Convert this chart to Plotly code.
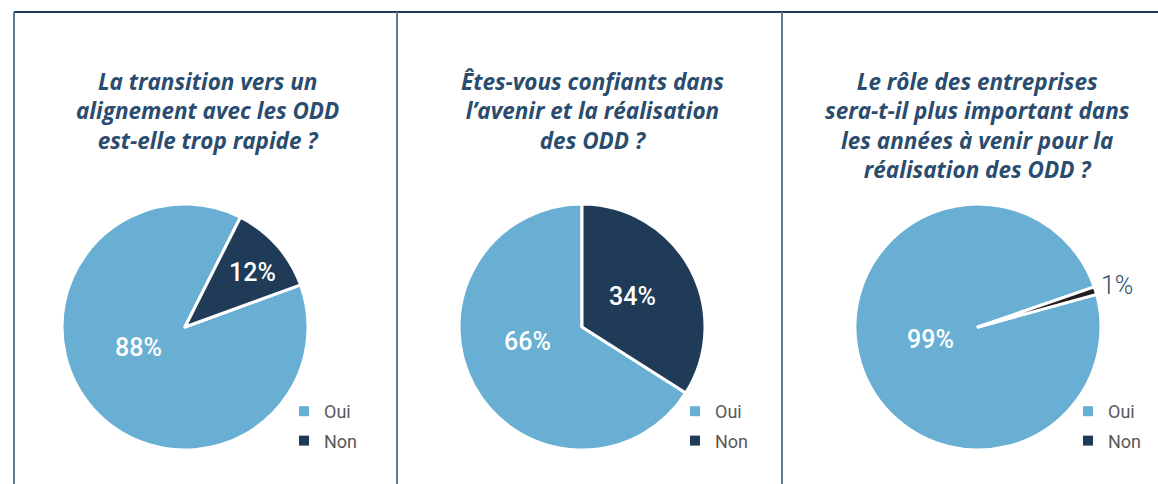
import plotly.graph_objects as go

categories = ["Oui", "Non"]
titles = [
    "La transition vers un<br>alignement avec les ODD<br>est-elle trop rapide ?",
    "Êtes-vous confiants dans<br>l’avenir et la réalisation<br>des ODD ?",
    "Le rôle des entreprises<br>sera-t-il plus important dans<br>les années à venir pour la<br>réalisation des ODD ?",
]
q1_values = [88, 12]
q2_values = [66, 34]
q3_values = [99, 1]

W, H = 1158, 484
LIGHT = "#69AFD4"
NAVY = "#1F3B57"
BLACK = "#231F20"
TITLE_C = "#2A4C6E"


def px(x):
    return x / W


def py(y):
    return 1 - y / H


fig = go.Figure()

R = 123
CY = 327
pies = [
    dict(values=q1_values, cx=185, rotation=70, colors=[LIGHT, NAVY], legend="legend", lx=284,
         label_off=[(-47, 20), (67, -55)], outside=[False, False]),
    dict(values=q2_values, cx=582, rotation=122.4, colors=[LIGHT, NAVY], legend="legend2", lx=675,
         label_off=[(-55, 14), (50, -31)], outside=[False, False]),
    dict(values=q3_values, cx=978, rotation=74.6, colors=[LIGHT, BLACK], legend="legend3", lx=1068,
         label_off=[(-48, 12), (139, -42)], outside=[False, True]),
]
legend_colors = [LIGHT, NAVY]

for i, p in enumerate(pies):
    fig.add_trace(go.Pie(
        labels=categories,
        values=p["values"],
        sort=False,
        direction="clockwise",
        rotation=p["rotation"],
        marker=dict(colors=p["colors"], line=dict(color="white", width=3)),
        domain=dict(x=[px(p["cx"] - R), px(p["cx"] + R)], y=[py(CY + R), py(CY - R)]),
        textinfo="none",
        hoverinfo="label+percent",
        showlegend=False,
    ))
    # percentage labels
    for v, (dx, dy), out in zip(p["values"], p["label_off"], p["outside"]):
        fig.add_annotation(
            text=f"{v}%",
            xref="paper", yref="paper",
            x=px(p["cx"] + dx), y=py(CY + dy),
            xanchor="center", yanchor="middle", showarrow=False,
            font=dict(family="Roboto", size=25,
                      color=TITLE_C if out else "white",
                      weight=300 if out else 500),
        )
    # legend entries
    for j, (cat, col) in enumerate(zip(categories, legend_colors)):
        fig.add_trace(go.Scatter(
            x=[None], y=[None], mode="markers",
            marker=dict(symbol="square", size=10, color=col),
            name=cat, legend=p["legend"], legendgroup=f"{p['legend']}_{j}",
            showlegend=True, hoverinfo="skip",
        ))

legend_common = dict(
    font=dict(family="Roboto", size=18, color="#595959"),
    bgcolor="rgba(0,0,0,0)",
    tracegroupgap=3,
    traceorder="grouped",
    itemwidth=30,
    xanchor="left",
    yanchor="top",
)
fig.update_layout(
    width=W, height=H,
    margin=dict(l=0, r=0, t=0, b=0),
    paper_bgcolor="white",
    plot_bgcolor="white",
    xaxis=dict(visible=False),
    yaxis=dict(visible=False),
    legend=dict(x=px(pies[0]["lx"]), y=py(393), **legend_common),
    legend2=dict(x=px(pies[1]["lx"]), y=py(393), **legend_common),
    legend3=dict(x=px(pies[2]["lx"]), y=py(393), **legend_common),
)

# panel borders
line_dark = dict(color="#1F3A55", width=2)
line_side = dict(color="#5B7A96", width=2)
fig.add_shape(type="line", xref="paper", yref="paper", x0=px(14), x1=1, y0=py(12), y1=py(12), line=line_dark)
for xv in [14, 397, 782]:
    fig.add_shape(type="line", xref="paper", yref="paper", x0=px(xv), x1=px(xv), y0=py(12), y1=0, line=line_side)

# titles
title_pos = [(207, 63.5), (592, 63.5), (977, 63.5)]
for t, (tx, ty) in zip(titles, title_pos):
    fig.add_annotation(
        text="<b><i>" + t + "</i></b>",
        xref="paper", yref="paper",
        x=px(tx), y=py(ty), xanchor="center", yanchor="top",
        showarrow=False, align="center",
        font=dict(family="Open Sans", size=22.5, color=TITLE_C),
    )

fig.write_html("out.html", config={"displayModeBar": False},
               post_script="document.body.style.margin='0px';")
